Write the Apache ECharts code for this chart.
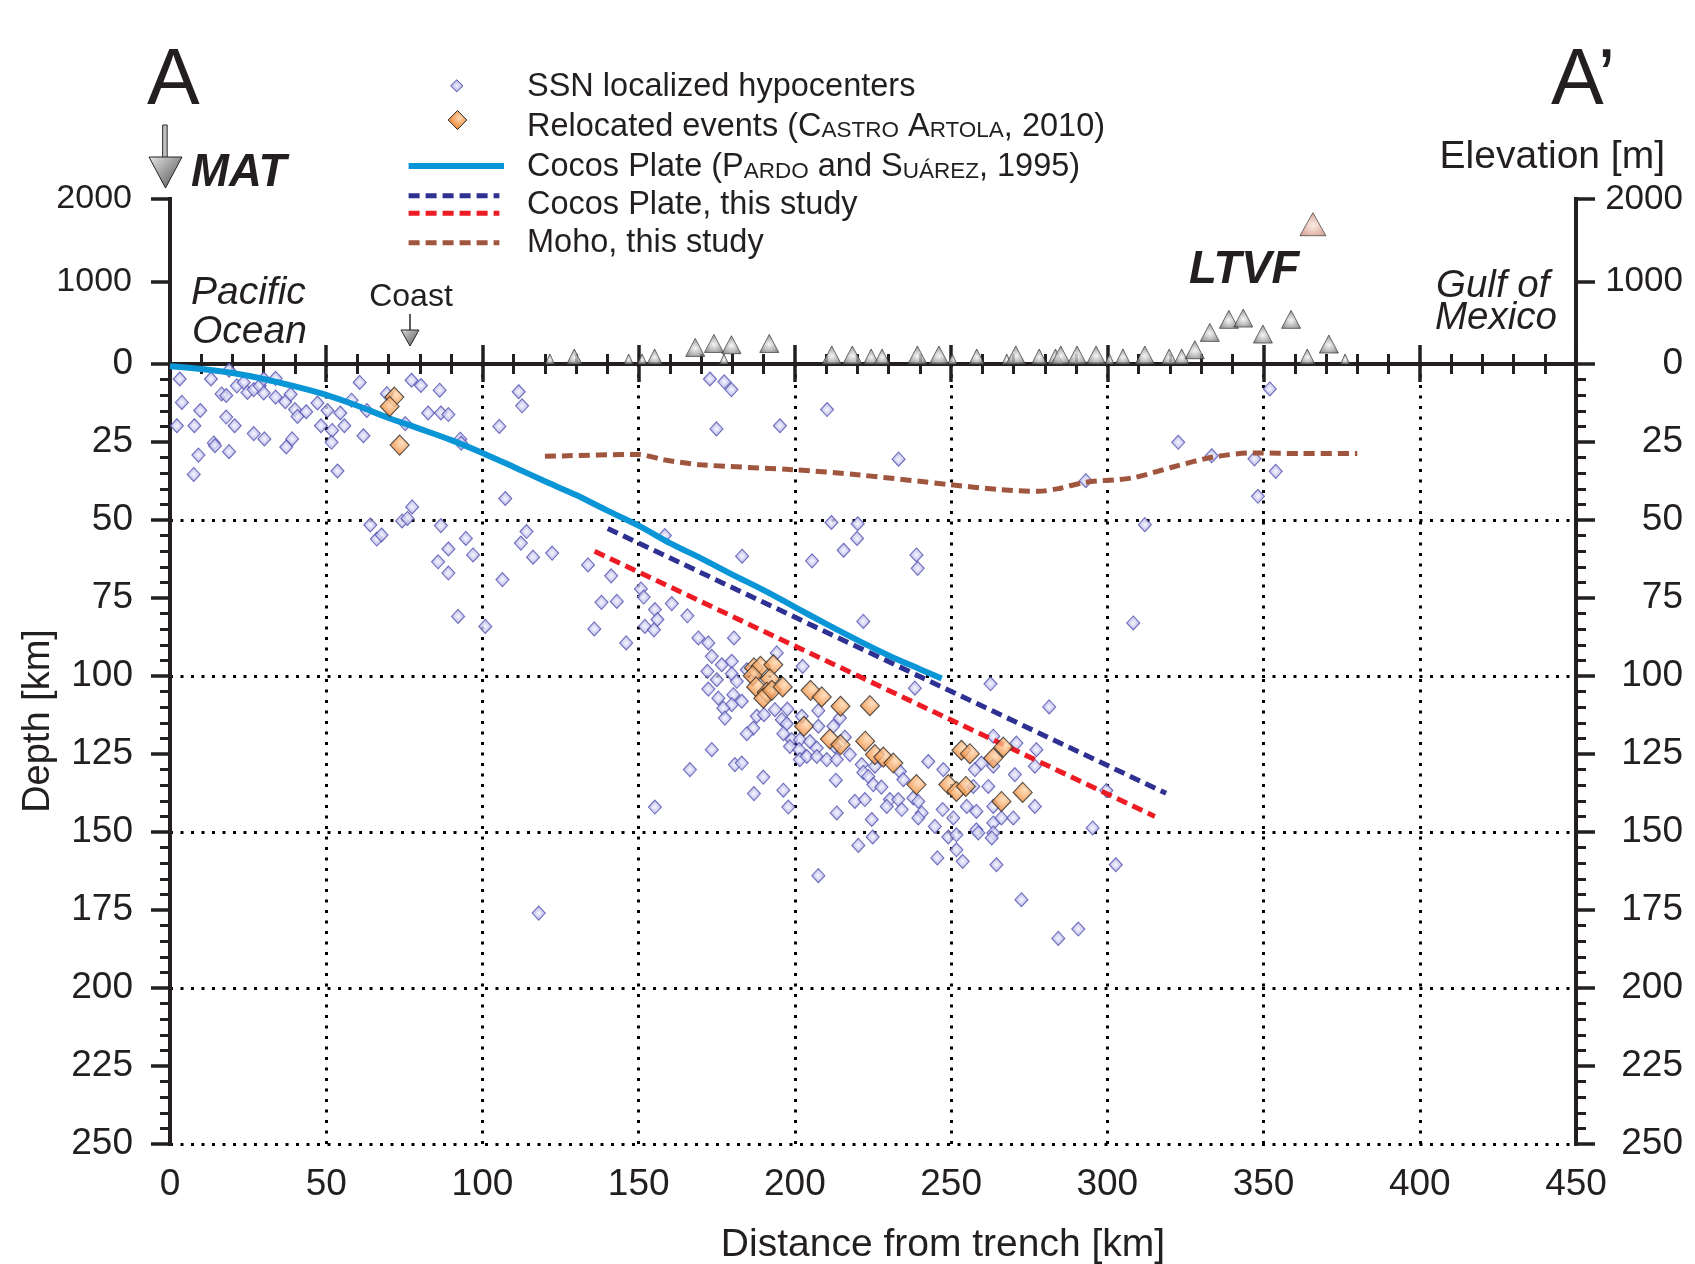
<!DOCTYPE html>
<html>
<head>
<meta charset="utf-8">
<script src="https://cdn.jsdelivr.net/npm/echarts@6/dist/echarts.min.js"></script>
<style>
  html, body { margin: 0; padding: 0; background: #ffffff; }
  #chart { width: 1695px; height: 1264px; }
</style>
</head>
<body>
<div id="chart"></div>
<script>
// ---------------- DATA ----------------
// Tick values
const distanceTicks = [0, 50, 100, 150, 200, 250, 300, 350, 400, 450];
const depthTicks = [0, 25, 50, 75, 100, 125, 150, 175, 200, 225, 250];
const elevationTicks = [0, 1000, 2000];

// SSN localized hypocenters: [distance km, depth km]
const ssnHypocenters = [
  [3.1,4.8],[3.8,12.3],[2.2,19.8],[7.8,19.8],[9.7,14.9],[9.1,29.2],[7.6,35.4],[13.1,4.8],[14.0,25.3],[14.4,26.2],
  [18.9,28.1],[16.5,9.6],[18.0,10.1],[18.0,17.0],[20.7,19.8],[18.9,2.0],[21.4,7.0],[23.6,5.9],[24.8,9.1],[26.8,8.2],
  [28.7,7.0],[30.0,9.3],[30.0,4.8],[33.8,4.6],[33.8,10.6],[36.9,12.1],[38.6,9.7],[40.0,14.6],[40.8,16.8],[43.6,15.3],
  [26.8,22.3],[30.2,24.0],[37.2,26.6],[39.1,24.0],[47.2,12.5],[48.3,19.8],[50.4,14.9],[51.9,21.3],[51.7,25.1],[54.5,15.7],
  [55.8,19.8],[53.6,34.3],[60.7,5.9],[58.1,11.6],[63.0,14.9],[61.9,23.0],[69.4,9.5],[75.3,19.1],[77.3,5.2],[80.3,6.9],
  [86.3,8.4],[82.6,15.7],[86.7,15.7],[89.1,16.2],[64.1,51.6],[66.2,56.1],[67.7,54.8],[74.3,50.3],[76.0,49.5],[77.5,45.8],
  [86.7,51.8],[89.1,59.3],[85.8,63.4],[89.1,67.0],
  [92.9,24.1],[93.2,25.4],[105.4,20.0],[111.6,8.9],[112.7,13.4],[107.3,43.1],[94.7,55.9],[97.0,61.2],[92.2,80.9],[100.9,84.1],
  [106.4,69.1],[114.1,53.7],[112.3,57.4],[116.2,61.9],[122.3,60.6],[133.8,64.4],[141.2,67.9],[135.8,84.9],[138.1,76.4],[150.7,72.1],
  [151.6,74.7],[158.4,55.0],[172.8,4.8],[177.4,5.7],[179.7,8.2],[174.9,20.8],[195.2,19.8],[183.1,61.6],[210.3,14.6],[233.2,30.5],
  [211.7,50.8],[220.1,51.2],[219.9,55.9],[215.6,59.7],[205.5,63.1],[238.9,61.2],[239.3,65.5],
  [143.0,76.1],[155.2,78.7],[156.0,81.9],[152.0,84.1],[154.9,85.2],[146.0,89.4],[160.6,76.8],[165.6,80.7],[169.1,87.8],[172.3,89.4],
  [180.5,87.8],[173.4,93.7],[176.6,96.4],[179.8,95.3],[172.0,98.5],[175.0,101.2],[179.8,99.3],[181.4,101.7],[184.6,98.0],[194.2,92.6],
  [202.5,96.9],[172.3,104.2],[175.5,107.1],[180.3,106.0],[183.0,108.1],[179.8,109.2],[177.1,110.3],[177.6,113.5],[187.8,112.9],[190.1,112.4],
  [193.6,110.8],[197.6,110.6],[195.8,114.0],[197.4,115.3],[202.2,112.9],[207.5,111.1],[214.4,113.5],[207.5,116.1],[212.3,116.1],[186.7,116.7],
  [184.6,118.5],[196.3,118.5],[199.0,120.4],[201.6,120.4],[204.8,121.0],[198.4,122.6],[201.4,123.6],[207.0,123.1],[216.0,119.6],[212.8,122.6],
  [201.6,126.8],[203.8,125.8],[207.0,125.8],[210.2,126.8],[213.4,126.8],[217.6,125.2],[173.4,123.6],[166.4,130.0],[180.8,128.4],[183.0,127.9],
  [189.9,132.4],[186.9,137.7],[196.3,136.6],[197.9,142.0],[213.1,133.4],[221.4,128.4],[221.9,130.9],[223.5,132.2],[225.6,128.9],[225.1,134.8],
  [227.7,135.6],[233.6,130.6],[234.7,133.2],[237.9,139.1],[239.5,140.2],[230.4,139.6],[233.1,139.6],[229.4,141.8],[234.2,142.8],[240.6,143.9],
  [239.5,145.5],[219.2,140.2],[222.4,139.6],[213.4,143.9],[224.6,146.0],[224.9,151.6],[220.3,154.3],[242.7,127.4],[247.5,130.0],[247.3,142.8],
  [244.8,148.2],[250.7,145.5],[249.1,151.6],[251.7,150.9],[245.6,158.3],[251.7,155.7],[253.7,159.4],[255.0,141.8],[258.1,143.4],[258.1,149.3],
  [258.7,150.3],[257.1,135.4],[261.9,135.4],[263.5,141.8],[263.5,147.1],[263.5,150.3],[263.0,151.9],[266.1,145.5],[269.9,145.5],[264.5,160.5],
  [257.6,130.0],[259.7,127.9],[263.5,128.9],[270.4,131.6],[276.8,141.8],[276.8,128.9],[277.3,123.6],[263.5,119.3],[270.9,121.5],[262.6,102.5],
  [281.4,109.9],[295.3,148.7],[238.4,103.9],[221.9,82.5],[155.2,142.0],[207.5,164.0],[272.5,171.7],
  [118.0,176.0],[284.3,184.1],[290.7,181.1],[302.7,160.5],[299.7,136.7],[308.3,83.0],[312.0,51.5],[322.7,25.1],[333.4,29.4],[347.1,30.4],
  [348.2,42.4],[353.9,34.4],[352.0,8.0],[293.1,37.4]
];

// Relocated events (Castro Artola, 2010): [distance km, depth km]
const relocatedEvents = [
  [71.8,10.6],[70.3,13.6],[73.5,26.0],[186.9,97.4],[189.0,96.9],[193.1,96.4],[186.5,99.9],[192.0,100.9],[187.6,103.5],[191.0,105.2],
  [189.9,107.1],[192.6,104.6],[196.1,103.5],[205.0,104.6],[208.6,106.7],[214.6,109.7],[224.0,109.5],[202.9,116.1],[211.2,120.2],[214.6,122.0],
  [222.5,120.9],[225.6,125.2],[228.3,126.0],[231.5,127.9],[238.9,134.8],[249.1,134.8],[251.7,137.0],[254.7,135.4],[253.3,123.8],[256.0,124.9],
  [263.5,126.3],[266.7,122.8],[266.1,140.2],[272.9,137.3]
];

// Cocos Plate (Pardo and Suarez, 1995): [distance km, depth km]
const cocosPardo = [
  [0,0.7],[10,1.6],[20,2.9],[30,4.8],[40,7.2],[50,9.9],[60,13.4],[70,17.3],[80,20.8],[90,24.4],[100,28.5],
  [110,33.0],[120,37.6],[130,42.0],[140,47.0],[150,51.8],[160,57.4],[170,62.3],[180,67.5],[190,72.5],
  [200,77.9],[210,83.3],[220,88.5],[230,93.4],[240,97.8],[247,100.8]
];
// Cocos Plate, this study (upper and lower boundary)
const cocosUpper = [[140.1,52.7],[318.8,137.6]];
const cocosLower = [[135.9,60.0],[315.2,145.0]];
// Moho, this study
const moho = [
  [120,29.6],[150,29.0],[158,30.7],[170,32.3],[200,33.9],[220,35.5],[250,38.7],[266,40.3],[278,40.8],[285,39.8],
  [293,37.9],[308,36.5],[321,33.0],[334,29.8],[347,28.5],[362,28.7],[380,28.7]
];

// Volcanoes: [distance km, base elevation m]
const volcanoesSmall = [[121.6,0],[146.8,0],[151.1,0],[177.3,0],[250.4,0],[267.8,0],[300.7,0],[376.1,0]];
const volcanoesMedium = [[129.4,0],[155.1,0],[224.4,0],[227.9,0],[258.2,0],[278.2,0],[283.4,0],[305.0,0],[319.8,0],[323.8,0],[364.0,0]];
const volcanoesLarge = [
  [168.1,92],[174.1,140],[179.7,125],[191.8,140],[211.8,0],[218.4,0],[239.2,0],[246.1,0],[270.7,0],[285.1,0],
  [290.3,0],[296.4,0],[312.0,0],[328.0,64],[332.8,274],[338.9,432],[343.5,448],[349.8,254],[358.8,432],[370.9,133]
];
const volcanoHighest = [[365.8,1555]];

// ---------------- STYLE ----------------
const FONT = '"Liberation Sans", Arial, Helvetica, sans-serif';
const INK = '#231f20';
const CYAN = '#0a96d6';
const NAVY = '#2e3192';
const RED = '#ed1c24';
const BROWN = '#a0553f';
const DASH = [11, 6];
const DOT = [3, 7.5];

const ssnFill = { type: 'radial', x: 0.5, y: 0.5, r: 0.62, colorStops: [{offset: 0, color: '#f4f4ff'}, {offset: 1, color: '#8c8cd6'}] };
const relFill = { type: 'radial', x: 0.6, y: 0.4, r: 0.65, colorStops: [{offset: 0, color: '#ffd9b3'}, {offset: 1, color: '#ec7a20'}] };
const volcFill = { type: 'radial', x: 0.5, y: 0.55, r: 0.65, colorStops: [{offset: 0, color: '#f4f4f4'}, {offset: 1, color: '#5e5e5e'}] };
const pinkFill = { type: 'radial', x: 0.5, y: 0.55, r: 0.65, colorStops: [{offset: 0, color: '#fbe6dc'}, {offset: 1, color: '#c4806c'}] };

const chart = echarts.init(document.getElementById('chart'), null, { renderer: 'canvas' });

const axisLineStyle = { show: true, lineStyle: { color: INK, width: 4, cap: 'square' } };
const tickStyle = { color: INK, width: 3.5 };
const minorStyle = { color: INK, width: 3 };
const labelBase = { color: INK, fontFamily: FONT };
const plainNumber = function (v) { return String(v); };

const G0 = { left: 170, width: 1406, top: 199, height: 165, outerBoundsMode: 'none', containLabel: false };
const G1 = { left: 170, width: 1406, top: 364, height: 780, outerBoundsMode: 'none', containLabel: false };

function volcSeries(data, size, fill) {
  return {
    type: 'scatter', xAxisIndex: 0, yAxisIndex: 0, data: data,
    symbol: 'triangle', symbolSize: size, symbolOffset: [0, '-50%'],
    clip: false, z: 3, silent: true,
    itemStyle: { color: fill, borderColor: '#3a3a3a', borderWidth: 0.9 }
  };
}

const LF = 32.5;
function legendText(y, text, rich) {
  return {
    type: 'text', x: 527, y: y, z: 100,
    style: { text: text, rich: rich, font: LF + 'px ' + FONT, fill: INK, align: 'left', verticalAlign: 'middle' }
  };
}
const scRich = {
  n: { fontSize: LF, fontFamily: FONT, color: INK, verticalAlign: 'bottom', lineHeight: 36 },
  b: { fontSize: 22.5, fontFamily: FONT, color: INK, verticalAlign: 'bottom', lineHeight: 36, padding: [0, 0, 1, 0] }
};

const option = {
  backgroundColor: '#ffffff',
  animation: false,
  textStyle: { fontFamily: FONT },
  grid: [
    Object.assign({}, G0),
    Object.assign({}, G1),
    Object.assign({}, G1)
  ],
  xAxis: [
    { // top panel: surface line with inward ticks
      type: 'value', gridIndex: 0, min: 0, max: 450, interval: 50, position: 'bottom',
      axisLine: axisLineStyle,
      axisTick: { show: true, inside: true, length: 19, lineStyle: tickStyle },
      minorTick: { show: true, splitNumber: 5, length: 10, lineStyle: minorStyle },
      axisLabel: { show: false }, splitLine: { show: false }
    },
    { // depth panel
      type: 'value', gridIndex: 1, min: 0, max: 450, interval: 50, position: 'bottom',
      name: 'Distance from trench [km]', nameLocation: 'middle', nameGap: 82,
      nameTextStyle: { fontSize: 39, color: INK, fontFamily: FONT, padding: [0, 0, 0, 140] },
      axisLine: axisLineStyle,
      axisTick: { show: true, inside: false, length: 18, lineStyle: tickStyle },
      minorTick: { show: true, splitNumber: 5, length: 10, lineStyle: minorStyle },
      axisLabel: Object.assign({ fontSize: 37, margin: 22, formatter: plainNumber }, labelBase),
      splitLine: { show: true, lineStyle: { color: '#000', width: 3, type: DOT } }
    },
    { // overlay for horizontal grid lines
      type: 'value', gridIndex: 2, min: 0, max: 450, show: false
    }
  ],
  yAxis: [
    {
      type: 'value', gridIndex: 0, min: 0, max: 2000, interval: 1000, position: 'left',
      axisLine: axisLineStyle,
      axisTick: { show: true, inside: false, length: 19, lineStyle: tickStyle },
      axisLabel: Object.assign({ fontSize: 34, margin: 38, showMinLabel: false, formatter: plainNumber }, labelBase),
      splitLine: { show: false }
    },
    {
      type: 'value', gridIndex: 0, min: 0, max: 2000, interval: 1000, position: 'right',
      axisLine: axisLineStyle,
      axisTick: { show: true, inside: false, length: 19, lineStyle: tickStyle },
      axisLabel: Object.assign({ fontSize: 35, margin: 107, align: 'right', showMinLabel: false, formatter: plainNumber }, labelBase),
      splitLine: { show: false }
    },
    {
      type: 'value', gridIndex: 1, min: 0, max: 250, interval: 25, inverse: true, position: 'left',
      name: 'Depth [km]', nameLocation: 'middle', nameGap: 112, nameRotate: 90,
      nameTextStyle: { fontSize: 38, color: INK, fontFamily: FONT, padding: [0, 0, 0, 66] },
      axisLine: axisLineStyle,
      axisTick: { show: true, inside: false, length: 19, lineStyle: tickStyle },
      minorTick: { show: true, splitNumber: 5, length: 10, lineStyle: minorStyle },
      axisLabel: Object.assign({ fontSize: 37, margin: 37, formatter: plainNumber }, labelBase),
      splitLine: { show: false }
    },
    {
      type: 'value', gridIndex: 1, min: 0, max: 250, interval: 25, inverse: true, position: 'right',
      axisLine: axisLineStyle,
      axisTick: { show: true, inside: false, length: 19, lineStyle: tickStyle },
      minorTick: { show: true, splitNumber: 5, length: 10, lineStyle: minorStyle },
      axisLabel: Object.assign({ fontSize: 37, margin: 107, align: 'right', formatter: plainNumber }, labelBase),
      splitLine: { show: false }
    },
    {
      type: 'value', gridIndex: 2, min: 0, max: 250, interval: 50, inverse: true,
      axisLine: { show: false }, axisTick: { show: false }, axisLabel: { show: false },
      splitLine: { show: true, lineStyle: { color: '#000', width: 3, type: DOT } }
    }
  ],
  series: [
    {
      name: 'SSN localized hypocenters', type: 'scatter', xAxisIndex: 1, yAxisIndex: 2,
      data: ssnHypocenters, symbol: 'diamond', symbolSize: [13, 14], z: 2,
      itemStyle: { color: ssnFill, borderColor: '#5050b0', borderWidth: 1.1 }
    },
    {
      name: 'Cocos Plate (Pardo and Suárez, 1995)', type: 'line', xAxisIndex: 1, yAxisIndex: 2,
      data: cocosPardo, smooth: 0.3, showSymbol: false, z: 3,
      lineStyle: { color: CYAN, width: 6 }
    },
    {
      name: 'Cocos Plate, this study (upper)', type: 'line', xAxisIndex: 1, yAxisIndex: 2,
      data: cocosUpper, showSymbol: false, z: 3,
      lineStyle: { color: NAVY, width: 5, type: DASH, cap: 'butt' }
    },
    {
      name: 'Cocos Plate, this study (lower)', type: 'line', xAxisIndex: 1, yAxisIndex: 2,
      data: cocosLower, showSymbol: false, z: 3,
      lineStyle: { color: RED, width: 5, type: DASH, cap: 'butt' }
    },
    {
      name: 'Moho, this study', type: 'line', xAxisIndex: 1, yAxisIndex: 2,
      data: moho, smooth: 0.3, showSymbol: false, z: 3,
      lineStyle: { color: BROWN, width: 5, type: DASH, cap: 'butt' }
    },
    {
      name: 'Relocated events (Castro Artola, 2010)', type: 'scatter', xAxisIndex: 1, yAxisIndex: 2,
      data: relocatedEvents, symbol: 'diamond', symbolSize: [19, 20], z: 4,
      itemStyle: { color: relFill, borderColor: '#2a2a2a', borderWidth: 1.1 }
    },
    volcSeries(volcanoesSmall, [9, 10], volcFill),
    volcSeries(volcanoesMedium, [15, 15], volcFill),
    volcSeries(volcanoesLarge, [19, 18], volcFill),
    volcSeries(volcanoHighest, [26, 23], pinkFill)
  ],
  graphic: [
    // Section labels
    { type: 'text', x: 147, y: 82, style: { text: 'A', font: '79px ' + FONT, fill: INK, align: 'left', verticalAlign: 'middle' } },
    { type: 'text', x: 1551, y: 82, style: { text: 'A\u2019', font: '79px ' + FONT, fill: INK, align: 'left', verticalAlign: 'middle' } },
    { type: 'text', x: 1665, y: 157, style: { text: 'Elevation [m]', font: '39px ' + FONT, fill: INK, align: 'right', verticalAlign: 'middle' } },
    { type: 'text', x: 191, y: 173, style: { text: 'MAT', font: 'italic bold 45.5px ' + FONT, fill: INK, align: 'left', verticalAlign: 'middle' } },
    { type: 'text', x: 191, y: 293, style: { text: 'Pacific', font: 'italic 39px ' + FONT, fill: INK, align: 'left', verticalAlign: 'middle' } },
    { type: 'text', x: 192, y: 332, style: { text: 'Ocean', font: 'italic 39px ' + FONT, fill: INK, align: 'left', verticalAlign: 'middle' } },
    { type: 'text', x: 411, y: 297, style: { text: 'Coast', font: '32px ' + FONT, fill: INK, align: 'center', verticalAlign: 'middle' } },
    { type: 'text', x: 1189, y: 270, style: { text: 'LTVF', font: 'italic bold 45.5px ' + FONT, fill: INK, align: 'left', verticalAlign: 'middle' } },
    { type: 'text', x: 1436, y: 286, style: { text: 'Gulf of', font: 'italic 38.5px ' + FONT, fill: INK, align: 'left', verticalAlign: 'middle' } },
    { type: 'text', x: 1435, y: 318, style: { text: 'Mexico', font: 'italic 38.5px ' + FONT, fill: INK, align: 'left', verticalAlign: 'middle' } },
    // MAT arrow
    { type: 'rect', shape: { x: 162.6, y: 125, width: 4.6, height: 33 }, style: { fill: '#bdbdbd', stroke: '#333', lineWidth: 1 } },
    { type: 'polygon', shape: { points: [[149, 157], [182, 157], [165.5, 188]] },
      style: { fill: { type: 'linear', x: 0, y: 0, x2: 1, y2: 1, colorStops: [{offset: 0, color: '#e8e8e8'}, {offset: 1, color: '#4a4a4a'}] }, stroke: '#222', lineWidth: 1 } },
    // Coast arrow
    { type: 'line', shape: { x1: 410, y1: 314, x2: 410, y2: 331 }, style: { stroke: '#333', lineWidth: 1.6 } },
    { type: 'polygon', shape: { points: [[401, 330], [419, 330], [410, 346]] },
      style: { fill: { type: 'linear', x: 0, y: 0, x2: 1, y2: 1, colorStops: [{offset: 0, color: '#dcdcdc'}, {offset: 1, color: '#555'}] }, stroke: '#222', lineWidth: 1 } },
    // Legend markers
    { type: 'polygon', z: 100, shape: { points: [[456.8, 79.8], [463, 85.8], [456.8, 91.8], [450.6, 85.8]] },
      style: { fill: ssnFill, stroke: '#5050b0', lineWidth: 1 } },
    { type: 'polygon', z: 100, shape: { points: [[457.5, 110.5], [466.8, 120], [457.5, 129.5], [448.2, 120]] },
      style: { fill: relFill, stroke: '#2a2a2a', lineWidth: 1 } },
    { type: 'line', z: 100, shape: { x1: 408.6, y1: 166, x2: 504, y2: 166 }, style: { stroke: CYAN, lineWidth: 6 } },
    { type: 'line', z: 100, shape: { x1: 408.6, y1: 195.7, x2: 499.4, y2: 195.7 }, style: { stroke: NAVY, lineWidth: 5, lineDash: DASH } },
    { type: 'line', z: 100, shape: { x1: 408.6, y1: 213.3, x2: 499.4, y2: 213.3 }, style: { stroke: RED, lineWidth: 5, lineDash: DASH } },
    { type: 'line', z: 100, shape: { x1: 408.6, y1: 242.7, x2: 499.4, y2: 242.7 }, style: { stroke: BROWN, lineWidth: 5, lineDash: DASH } },
    // Legend texts
    legendText(86, '{n|SSN localized hypocenters}', scRich),
    legendText(125.5, '{n|Relocated events (C}{b|ASTRO}{n| A}{b|RTOLA}{n|, 2010)}', scRich),
    legendText(166, '{n|Cocos Plate (P}{b|ARDO}{n| and S}{b|UÁREZ}{n|, 1995)}', scRich),
    legendText(203.5, '{n|Cocos Plate, this study}', scRich),
    legendText(241.7, '{n|Moho, this study}', scRich)
  ]
};

chart.setOption(option);
</script>
</body>
</html>
